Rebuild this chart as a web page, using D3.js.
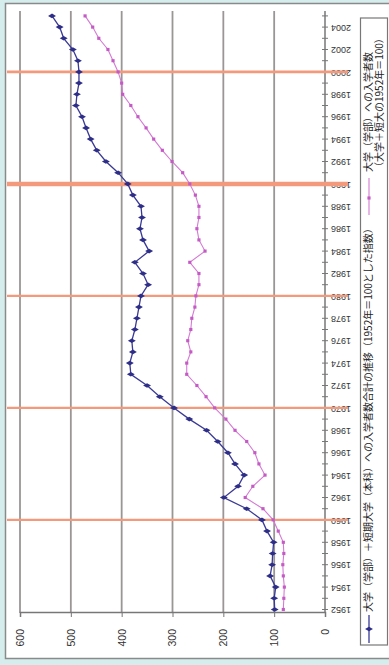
<!DOCTYPE html>
<html><head><meta charset="utf-8">
<script src="https://cdn.jsdelivr.net/npm/d3@7"></script>
<style>html,body{margin:0;padding:0;background:#d6eded;}svg{display:block;}</style>
</head><body>
<svg id="c" width="389" height="665"></svg>
<script>
// ---- data ----
const years = d3.range(1952, 2006);
const seriesBlue = [99,100,97,108,104,103,101,114,124,154,199,171,159,177,191,211,233,267,297,325,350,382,384,378,380,374,370,366,362,348,358,374,346,358,364,360,362,378,388,407,431,449,461,470,478,490,488,484,484,486,496,514,522,537];
const seriesPink = [82,81,80,82,83,81,82,92,102,122,157,142,118,130,138,154,177,195,217,234,252,272,272,264,270,264,262,256,254,248,248,266,236,248,252,248,248,255,266,280,301,320,337,352,368,382,398,400,407,417,427,445,457,472];
const valueTicks = [0,100,200,300,400,500,600];
const yearLabels = d3.range(1952, 2005, 2);
const decadeLines = [1960,1970,1980,1990,2000];
const legendBlue = "大学（学部）＋短期大学（本科）への入学者数合計の推移（1952年＝100とした指数）";
const legendPink = ["大学（学部）への入学者数", "（大学＋短大の1952年＝100）"];

const svg = d3.select("#c");
svg.append("rect").attr("x",0).attr("y",0).attr("width",389).attr("height",665).attr("fill","#d6eded");
svg.append("rect").attr("x",5.5).attr("y",3.5).attr("width",390).attr("height",655)
  .attr("fill","#fff").attr("stroke","#8a8a8a").attr("stroke-width",1.5);

// chart drawn in unrotated coordinates, then rotated -90deg
const g = svg.append("g").attr("transform","translate(0,665) rotate(-90)");

const x = d3.scaleLinear().domain([1952, 2005]).range([55.5, 649.1]);
const y = d3.scaleLinear().domain([0, 600]).range([325, 20]);
const X0 = 52, X1 = 654;

// gridlines
g.selectAll("line.grid").data(valueTicks.filter(v=>v>0)).join("line")
  .attr("x1",X0).attr("x2",X1).attr("y1",d=>y(d)).attr("y2",d=>y(d))
  .attr("stroke","#9a9696").attr("stroke-width",1.8);

// axes
const yAxis = d3.axisLeft(y).tickValues(valueTicks).tickSize(4).tickPadding(12);
const ya = g.append("g").attr("transform",`translate(${X0},0)`).call(yAxis);
ya.select(".domain").attr("stroke","#777").attr("stroke-width",1.5);
ya.selectAll(".tick line").attr("stroke","#777");
ya.selectAll("text").attr("font-family","Liberation Sans, Arial, sans-serif").attr("font-size",10.5).attr("fill","#333");

const xAxis = d3.axisBottom(x).tickValues(years).tickSize(0).tickFormat("");
const xa = g.append("g").attr("transform","translate(0,325)").call(xAxis);
xa.select(".domain").remove();
g.append("line").attr("x1",X0).attr("x2",X1).attr("y1",325).attr("y2",325).attr("stroke","#777").attr("stroke-width",1.5);
g.selectAll("line.xt").data(years).join("line")
  .attr("x1",d=>x(d)).attr("x2",d=>x(d)).attr("y1",322).attr("y2",328)
  .attr("stroke","#777").attr("stroke-width",1);
g.selectAll("text.yl").data(yearLabels).join("text")
  .attr("transform",d=>`translate(${x(d)},331) rotate(-90)`)
  .attr("text-anchor","end").attr("dominant-baseline","middle")
  .attr("font-family","Liberation Sans, Arial, sans-serif").attr("font-size",9).attr("fill","#333")
  .text(d=>d);

// decade lines
g.selectAll("line.dec").data(decadeLines).join("line")
  .attr("x1",d=>x(d)).attr("x2",d=>x(d)).attr("y1",7).attr("y2",348)
  .attr("stroke","#f49a7c").attr("stroke-width",d=>d===1990?4.5:(d===2000?2.8:2.2));

// series
const line = d3.line().x((d,i)=>x(years[i])).y(d=>y(d));
g.append("path").datum(seriesPink).attr("d",line).attr("fill","none")
  .attr("stroke","#d47ad4").attr("stroke-width",1.1);
g.append("path").datum(seriesBlue).attr("d",line).attr("fill","none")
  .attr("stroke","#3a3a96").attr("stroke-width",1.3);
const sq = d3.symbol().type(d3.symbolSquare).size(10);
const dm = d3.symbol().type(d3.symbolDiamond).size(18);
g.selectAll("path.pm").data(seriesPink).join("path")
  .attr("d",sq).attr("transform",(d,i)=>`translate(${x(years[i])},${y(d)})`).attr("fill","#c45ac4");
g.selectAll("path.bm").data(seriesBlue).join("path")
  .attr("d",dm).attr("transform",(d,i)=>`translate(${x(years[i])},${y(d)})`).attr("fill","#2e2e88");

// legend
g.append("rect").attr("x",20).attr("y",360.5).attr("width",627).attr("height",27)
  .attr("fill","#fff").attr("stroke","#777").attr("stroke-width",1.2);
g.append("line").attr("x1",22).attr("x2",50).attr("y1",369).attr("y2",369).attr("stroke","#3a3a96").attr("stroke-width",1.3);
g.append("path").attr("d",dm).attr("transform","translate(36,369)").attr("fill","#2e2e88");
g.append("text").attr("x",53).attr("y",369).attr("dominant-baseline","middle")
  .attr("font-family","Noto Sans CJK JP").attr("font-size",10).attr("fill","#222").text(legendBlue);
g.append("line").attr("x1",450).attr("x2",487).attr("y1",369).attr("y2",369).attr("stroke","#d47ad4").attr("stroke-width",1.1);
g.append("path").attr("d",sq).attr("transform","translate(467,369)").attr("fill","#c45ac4");
g.selectAll("text.lp").data(legendPink).join("text")
  .attr("x",493).attr("y",(d,i)=>369+i*11).attr("dominant-baseline","middle")
  .attr("font-family","Noto Sans CJK JP").attr("font-size",10).attr("fill","#222").text(d=>d);
</script>
</body></html>
